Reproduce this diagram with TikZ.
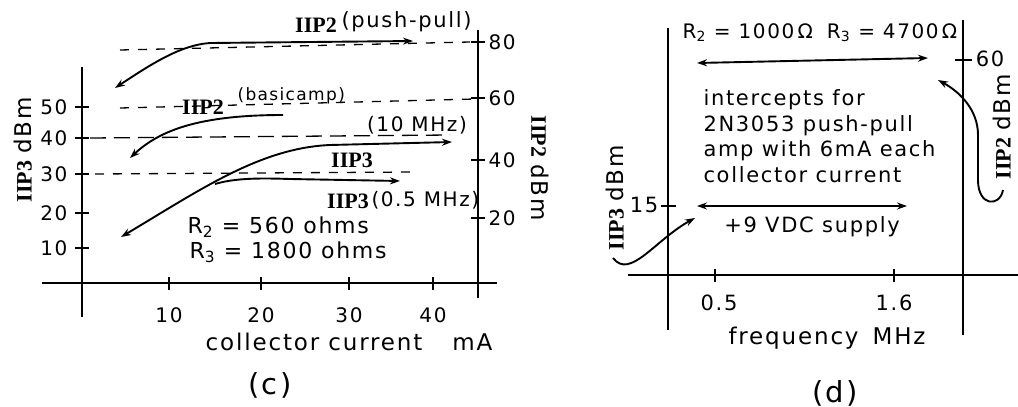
\documentclass[tikz,border=0pt]{standalone}
\usepackage{fontspec}
\setmainfont{Liberation Serif}
\newfontfamily\handfont[LetterSpace=8]{DejaVu Sans}
\usetikzlibrary{arrows.meta}

\begin{document}
\begin{tikzpicture}[x=1pt,y=-1pt,
  handtext/.style={font=\handfont\fontsize{#1}{25.5}\selectfont},
  handtext/.default=21,
  iiptext/.style={font=\bfseries\fontsize{22}{24}\selectfont},
  axisline/.style={line width=1.4pt},
  trace/.style={line width=1.9pt},
  onearrow/.style={-{Stealth[length=10pt,width=7pt]}},
  twoarrow/.style={{Stealth[length=10pt,width=7pt]}-{Stealth[length=10pt,width=7pt]}},
  shortdash/.style={line width=1.3pt,dash pattern=on 9pt off 9pt},
  longdash/.style={line width=1.3pt,dash pattern=on 16pt off 8pt}]
\useasboundingbox (0,0) rectangle (1018,407);

%% panel (c)
\draw[axisline] (82,67) -- (82,317);
\draw[axisline] (42,283) -- (497,283);
\draw[axisline] (478,30) -- (478,298);

% Tick marks and labels
\foreach \y/\val in {107/50, 138/40, 174/30, 213/20, 248/10} {
    \draw[axisline] (75,\y) -- (89,\y);
    \node[handtext=20,anchor=east] (l\val) at (71,\y) {\val};
}
\foreach \y/\val in {42/80, 98/60, 160/40, 218/20} {
    \draw[axisline] (471,\y) -- (485,\y);
    \node[handtext=20,anchor=west] (r\val) at (485,\y) {\val};
}
\foreach \x/\val in {169/10, 261/20, 349/30, 433/40} {
    \draw[axisline] (\x,277) -- (\x,290);
    \node[handtext=20] (b\val) at (\x,315) {\val};
}

% dashed levels
\draw[shortdash] (120,50) -- (470,42);
\draw[shortdash] (120,108) -- (475,99);
\draw[longdash] (90,138) -- (450,135);
\draw[shortdash] (95,174) -- (415,172);

% curves
\coordinate (ppL) at (115,88);
\coordinate (ppR) at (413,41);
\draw[trace,twoarrow] (ppL) .. controls (150,65) and (180,45) .. (210,43) -- (ppR);
\coordinate (baS) at (283,115);
\coordinate (baE) at (130,158);
\draw[trace,onearrow] (baS) .. controls (200,115) and (160,130) .. (baE);
\coordinate (tenL) at (121,237);
\coordinate (tenR) at (452,142);
\draw[trace,twoarrow] (tenL) .. controls (200,190) and (260,148) .. (330,145) -- (tenR);
\coordinate (halfS) at (215,184);
\coordinate (halfE) at (400,181);
\draw[trace,onearrow] (halfS) .. controls (235,178) and (260,178) .. (290,179) -- (halfE);

% curve labels
\node[iiptext] (ppA) at (316,25) {IIP2};
\node[handtext=21,anchor=west] (ppB) at (338,22) {(push-pull)};
\node[iiptext] (baA) at (203,107) {IIP2};
\node[handtext=17,anchor=west] (baB) at (234,96) {(basicamp)};
\node[handtext=20] (tenB) at (417,125) {(10 MHz)};
\node[iiptext] (tenA) at (352,160) {IIP3};
\node[iiptext] (halfA) at (348,201) {IIP3};
\node[handtext=20,anchor=west] (halfB) at (368,200) {(0.5 MHz)};
\node[handtext=22,anchor=west] (rtwo) at (184,227) {R\textsubscript{2} = 560 ohms};
\node[handtext=22,anchor=west] (rthree) at (186,252) {R\textsubscript{3} = 1800 ohms};

% axis titles
\node[handtext=23] (xc) at (349,342) {collector current\hspace{30pt}mA};
\node[handtext=29] (capc) at (270,385) {(c)};
\node[rotate=90] (yc) at (23,150) {\textbf{\fontsize{22}{24}\selectfont IIP3}\hspace{7pt}{\handfont\fontsize{23}{24}\selectfont dBm}};
\node[rotate=-90] (zc) at (540,168) {\textbf{\fontsize{22}{24}\selectfont IIP2}\hspace{7pt}{\handfont\fontsize{23}{24}\selectfont dBm}};

%% panel (d)
\draw[axisline] (668,28) -- (668,330);
\draw[axisline] (963,20) -- (963,335);
\draw[axisline] (628,275) -- (1018,275);

\draw[axisline] (661,206) -- (676,206);
\node[handtext=21] (d15) at (644,205) {15};
\draw[axisline] (955,60) -- (972,60);
\node[handtext=21] (d60) at (990,59) {60};
\foreach \x in {715, 894} {
    \draw[axisline] (\x,269) -- (\x,282);
}
\node[handtext=21] (fa) at (719,303) {0.5};
\node[handtext=21] (fb) at (894,303) {1.6};

\node[handtext=23] (xd) at (827,338) {frequency\hspace{14pt}MHz};
\node[handtext=29] (capd) at (835,393) {(d)};

% intercept arrows
\coordinate (upL) at (697,63);
\coordinate (upR) at (928,58);
\draw[trace,twoarrow] (upL) -- (upR);
\coordinate (loL) at (697,206);
\coordinate (loR) at (907,206);
\draw[trace,twoarrow] (loL) -- (loR);

\node[handtext=20] (rr) at (820,33) {R\textsubscript{2} = 1000\,Ω\hspace{14pt}R\textsubscript{3} = 4700\,Ω};
\node[handtext=21,anchor=west,align=left] (note) at (700,136)
  {intercepts for\\2N3053 push-pull\\amp with 6mA each\\collector current};
\node[handtext=21] (supply) at (812,227) {+9 VDC supply};

% pointer arrows to axis titles
\coordinate (ptwoS) at (1003,190);
\coordinate (ptwoE) at (938,80);
\draw[trace,onearrow] (ptwoS) .. controls (1000,207) and (978,207) .. (978,180)
  -- (978,135) .. controls (978,110) and (960,92) .. (ptwoE);
\coordinate (pthreeS) at (613,258);
\coordinate (pthreeE) at (695,218);
\draw[trace,onearrow] (pthreeS) .. controls (630,280) and (655,240) .. (pthreeE);

\node[rotate=90] (yd) at (615,198) {\textbf{\fontsize{22}{24}\selectfont IIP3}\hspace{7pt}{\handfont\fontsize{23}{24}\selectfont dBm}};
\node[rotate=90] (zd) at (1002,127) {\textbf{\fontsize{22}{24}\selectfont IIP2}\hspace{7pt}{\handfont\fontsize{23}{24}\selectfont dBm}};
\end{tikzpicture}
\end{document}
